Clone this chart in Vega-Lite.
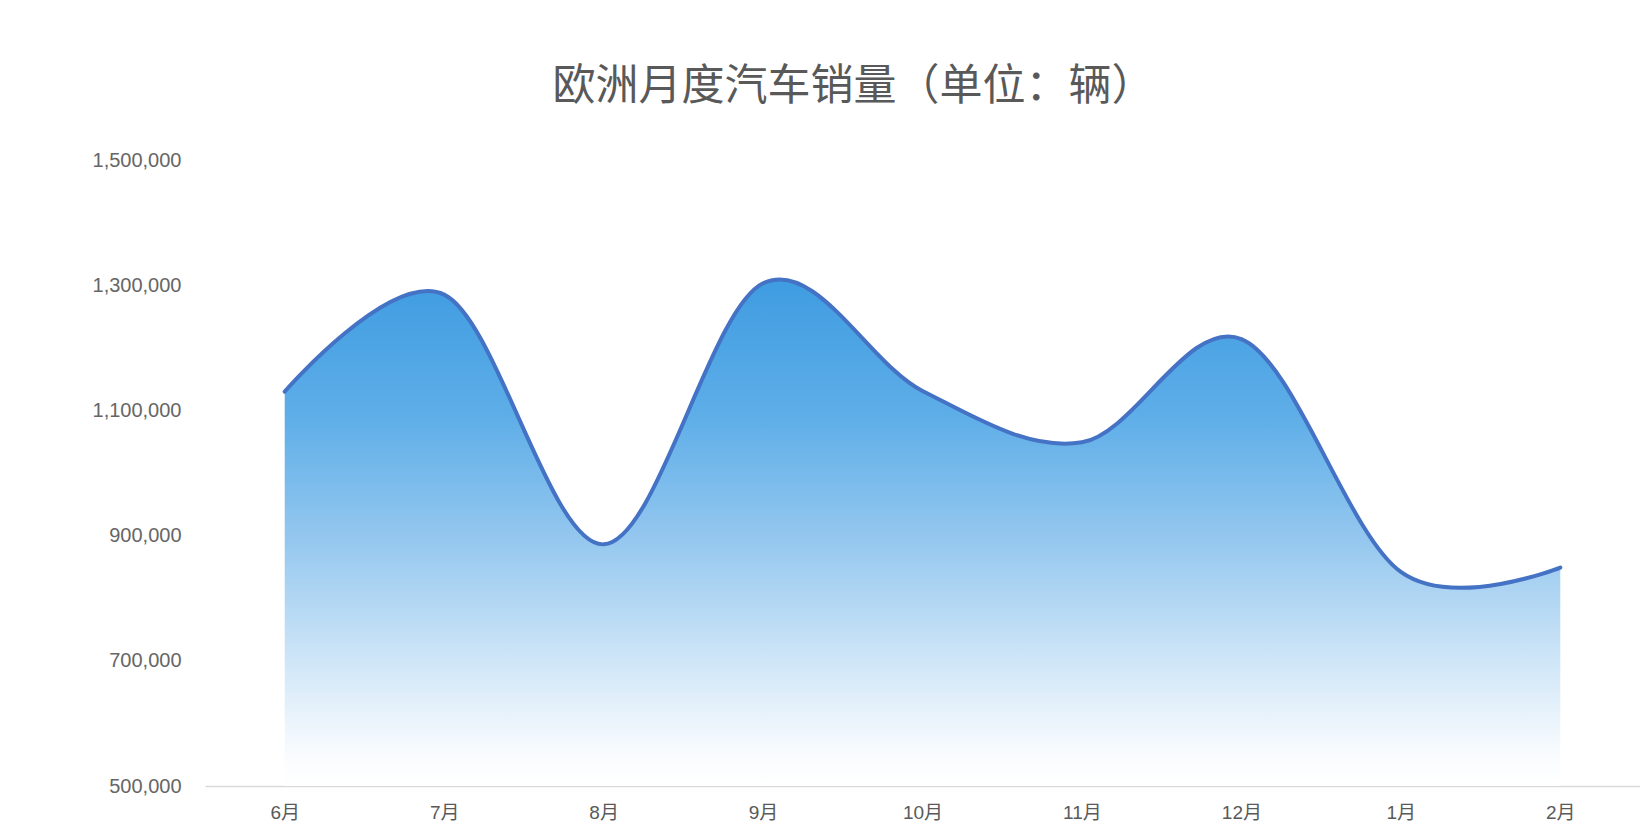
{
  "$schema": "https://vega.github.io/schema/vega-lite/v6.json",
  "width": 1435,
  "height": 626,
  "autosize": {"type": "none"},
  "padding": {"left": 205, "top": 160, "right": 0, "bottom": 49},
  "background": "#ffffff",
  "config": {"view": {"stroke": null}},
  "title": {
    "text": "欧洲月度汽车销量（单位：辆）",
    "font": "Noto Sans CJK SC",
    "fontSize": 43,
    "fontWeight": "normal",
    "color": "#595959",
    "anchor": "middle",
    "dx": -69,
    "offset": 41
  },
  "data": {
    "values": [
      {"month": "6月", "sales": 1130000},
      {"month": "7月", "sales": 1285000},
      {"month": "8月", "sales": 886000},
      {"month": "9月", "sales": 1303000},
      {"month": "10月", "sales": 1131000},
      {"month": "11月", "sales": 1049000},
      {"month": "12月", "sales": 1214000},
      {"month": "1月", "sales": 842000},
      {"month": "2月", "sales": 849000}
    ]
  },
  "encoding": {
    "x": {
      "field": "month",
      "type": "ordinal",
      "sort": null,
      "scale": {"type": "point", "padding": 0.5},
      "axis": {
        "title": null,
        "labelAngle": 0,
        "ticks": false,
        "domainColor": "#D9D9D9",
        "domainWidth": 1.5,
        "labelFont": "Liberation Sans, Noto Sans CJK SC",
        "labelFontSize": 19,
        "labelColor": "#595959",
        "labelPadding": 17
      }
    },
    "y": {
      "field": "sales",
      "type": "quantitative",
      "scale": {"domain": [500000, 1500000], "nice": false, "zero": false},
      "axis": {
        "title": null,
        "values": [500000, 700000, 900000, 1100000, 1300000, 1500000],
        "format": ",.0f",
        "grid": false,
        "domain": false,
        "ticks": false,
        "labelFont": "Liberation Sans",
        "labelFontSize": 20,
        "labelColor": "#666666",
        "labelPadding": 24
      }
    }
  },
  "layer": [
    {
      "mark": {
        "type": "area",
        "interpolate": "cardinal",
        "tension": 0,
        "color": {
          "gradient": "linear",
          "x1": 0, "y1": 0, "x2": 0, "y2": 1,
          "stops": [
            {"offset": 0, "color": "#3F9CE1"},
            {"offset": 0.27, "color": "#5EAEE8"},
            {"offset": 0.52, "color": "#96C8EF"},
            {"offset": 0.77, "color": "#D3E8F8"},
            {"offset": 0.93, "color": "#F8FBFE"},
            {"offset": 1, "color": "#FFFFFF"}
          ]
        }
      },
      "encoding": {"y2": {"datum": 500000}}
    },
    {
      "mark": {
        "type": "line",
        "interpolate": "cardinal",
        "tension": 0,
        "color": "#4472C4",
        "strokeWidth": 4,
        "strokeCap": "round"
      }
    }
  ]
}
